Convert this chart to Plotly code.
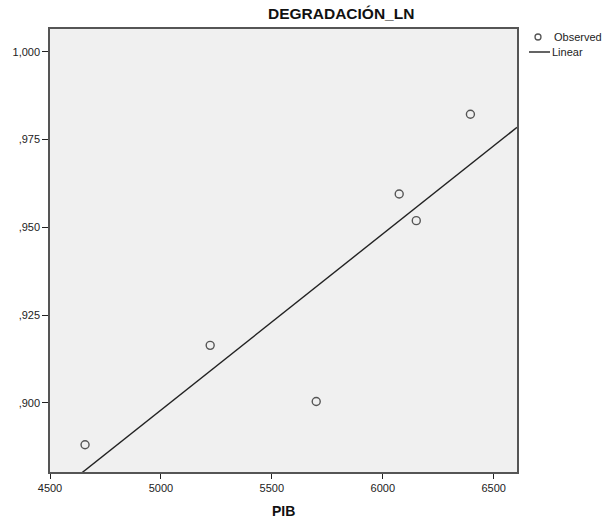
import numpy as np
import plotly.graph_objects as go

pib = [4658, 5222, 5700, 6074, 6151, 6395]
degradacion_ln = [0.8881, 0.9164, 0.9004, 0.9595, 0.9519, 0.9822]
y_tickvals = [0.900, 0.925, 0.950, 0.975, 1.000]
y_ticktext = [",900", ",925", ",950", ",975", "1,000"]
x_tickvals = [4500, 5000, 5500, 6000, 6500]

x_range = [4500, 6605]
y_range = [0.88034, 1.00647]

slope, intercept = np.polyfit(pib, degradacion_ln, 1)
fit_x = np.array(x_range)
fit_y = slope * fit_x + intercept

W, H = 605, 521
L, R, T, B = 50, 88, 29, 49
PW, PH = W - L - R, H - T - B


def px(xp):
    return (xp - L) / PW


def py(yp):
    return 1 - (yp - T) / PH


fig = go.Figure()
fig.add_trace(go.Scatter(
    x=pib, y=degradacion_ln, mode="markers", name="Observed",
    marker=dict(symbol="circle-open", size=8, color="#555555", line=dict(width=1.4, color="#555555")),
))
fig.add_trace(go.Scatter(
    x=fit_x, y=fit_y, mode="lines", name="Linear",
    line=dict(color="#222222", width=1.4),
))

font = "Liberation Sans, Arial, sans-serif"
fig.update_layout(
    width=W, height=H,
    margin=dict(l=L, r=R, t=T, b=B, autoexpand=False),
    paper_bgcolor="white", plot_bgcolor="#f0f0f0",
    font=dict(family=font, size=11, color="#222222"),
    showlegend=False,
    xaxis=dict(range=x_range, tickvals=x_tickvals, showgrid=False, zeroline=False,
               showline=True, linecolor="#555555", linewidth=1.5, mirror=True,
               ticks="outside", ticklen=5, tickcolor="#222222", tickwidth=1.2,
               tickfont=dict(size=11, family=font, color="#222222"), automargin=False),
    yaxis=dict(range=y_range, tickvals=y_tickvals, ticktext=y_ticktext, showgrid=False,
               zeroline=False, showline=True, linecolor="#555555", linewidth=1.5, mirror=True,
               ticks="outside", ticklen=6, tickcolor="#222222", tickwidth=1.2,
               tickfont=dict(size=11, family=font, color="#222222"), automargin=False),
    shapes=[
        dict(type="circle", xref="paper", yref="paper",
             x0=px(535), x1=px(541), y0=py(34), y1=py(40),
             line=dict(color="#555555", width=1.3), fillcolor="rgba(0,0,0,0)"),
        dict(type="line", xref="paper", yref="paper",
             x0=px(529), x1=px(550), y0=py(52), y1=py(52),
             line=dict(color="#222222", width=1.4)),
    ],
    annotations=[
        dict(text="<b>DEGRADACIÓN_LN</b>", xref="paper", yref="paper",
             x=px(341), y=py(13), xanchor="center", yanchor="middle",
             showarrow=False, font=dict(size=15.5, family=font, color="#111111")),
        dict(text="<b>PIB</b>", xref="paper", yref="paper",
             x=0.5, y=py(511), xanchor="center", yanchor="middle",
             showarrow=False, font=dict(size=14, family=font, color="#111111")),
        dict(text="Observed", xref="paper", yref="paper",
             x=px(552), y=py(37), xanchor="left", yanchor="middle",
             showarrow=False, font=dict(size=11, family=font, color="#222222")),
        dict(text="Linear", xref="paper", yref="paper",
             x=px(550), y=py(52), xanchor="left", yanchor="middle",
             showarrow=False, font=dict(size=11, family=font, color="#222222")),
    ],
)

fig.write_html("out.html", config={"displayModeBar": False},
               post_script="document.body.style.margin='0';document.body.style.overflow='hidden';")
